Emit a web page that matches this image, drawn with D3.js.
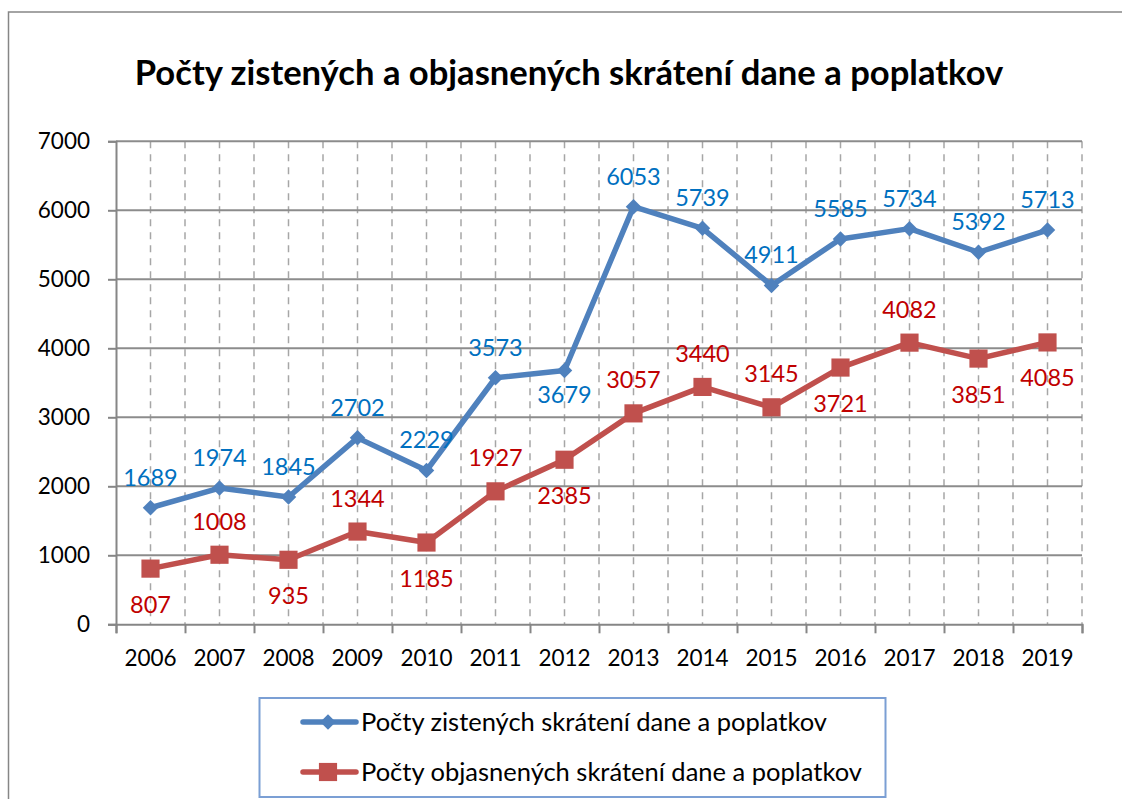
<!DOCTYPE html>
<html>
<head>
<meta charset="utf-8">
<script src="https://d3js.org/d3.v7.min.js"></script>
<style>
  body { margin: 0; background: #fff; }
  svg text { font-family: Lato, "Noto Sans", sans-serif; }
</style>
</head>
<body>
<div id="chart"></div>
<script>
// data
var years = ["2006", "2007", "2008", "2009", "2010", "2011", "2012",
             "2013", "2014", "2015", "2016", "2017", "2018", "2019"];
var zistene = [1689, 1974, 1845, 2702, 2229, 3573, 3679, 6053, 5739, 4911, 5585, 5734, 5392, 5713];
var objasnene = [807, 1008, 935, 1344, 1185, 1927, 2385, 3057, 3440, 3145, 3721, 4082, 3851, 4085];
var yTicks = [0, 1000, 2000, 3000, 4000, 5000, 6000, 7000];
var seriesNames = ["Počty zistených skrátení dane a poplatkov",
                   "Počty objasnených skrátení dane a poplatkov"];
var title = "Počty zistených a objasnených skrátení dane a poplatkov";

// where each data label sits: "t" above the point, "b" below
var zisteneLabelPos = ["t","t","t","t","t","t","b","t","t","t","t","t","t","t"];
var objasneneLabelPos = ["b","t","b","t","b","t","b","t","t","t","b","t","b","b"];

var width = 1122, height = 799;
var plotLeft = 116, plotRight = 1082, plotTop = 141.3, plotBottom = 624.3;
var fontSize = 22.5;

var svg = d3.select("#chart").append("svg")
    .attr("width", width)
    .attr("height", height);

// outer chart border (runs off the right and bottom edge)
svg.append("rect")
    .attr("x", 8.5).attr("y", 12)
    .attr("width", 1140).attr("height", 820)
    .attr("fill", "none")
    .attr("stroke", "#868686")
    .attr("stroke-width", 1.5);

svg.append("text")
    .attr("x", 569).attr("y", 85)
    .attr("text-anchor", "middle")
    .attr("font-weight", "bold")
    .attr("font-size", 34.6)
    .text(title);

var x = d3.scaleBand().domain(years).range([plotLeft, plotRight]);
var xi = d3.scaleLinear().domain([0, years.length]).range([plotLeft, plotRight]);
var y = d3.scaleLinear().domain([0, 7000]).range([plotBottom, plotTop]);

// vertical dashed grid (every half category)
svg.append("g")
    .selectAll("line")
    .data(d3.range(1, years.length * 2 + 1).map(function(d) { return d / 2; }))
    .enter().append("line")
    .attr("x1", function(d) { return xi(d); })
    .attr("x2", function(d) { return xi(d); })
    .attr("y1", plotTop)
    .attr("y2", plotBottom)
    .attr("stroke", "#a6a6a6")
    .attr("stroke-width", 1.5)
    .attr("stroke-dasharray", "7,6");

// horizontal grid
svg.append("g")
    .selectAll("line")
    .data(yTicks.slice(1))
    .enter().append("line")
    .attr("x1", plotLeft)
    .attr("x2", plotRight)
    .attr("y1", function(d) { return y(d); })
    .attr("y2", function(d) { return y(d); })
    .attr("stroke", "#8c8c8c")
    .attr("stroke-width", 2);

// y axis
var yAxis = svg.append("g")
    .attr("transform", "translate(" + plotLeft + ",0)")
    .call(d3.axisLeft(y).tickValues(yTicks).tickSize(8).tickPadding(18).tickFormat(d3.format("d")));
yAxis.selectAll("text").attr("font-size", fontSize).attr("fill", "#000")
    .style("font-family", "Lato, sans-serif");

// x axis tick marks at category boundaries
var xTickAxis = svg.append("g")
    .attr("transform", "translate(0," + plotBottom + ")")
    .call(d3.axisBottom(xi).tickValues(d3.range(years.length + 1)).tickSize(9).tickFormat(""));

// x axis labels
var xAxis = svg.append("g")
    .attr("transform", "translate(0," + plotBottom + ")")
    .call(d3.axisBottom(x).tickSize(0).tickPadding(26));
xAxis.select(".domain").remove();
xAxis.selectAll("text").attr("font-size", fontSize).attr("fill", "#000")
    .style("font-family", "Lato, sans-serif");

[yAxis, xTickAxis].forEach(function(a) {
    a.selectAll(".domain, line").attr("stroke", "#868686").attr("stroke-width", 2);
});

var series = [
    { name: seriesNames[0], values: zistene, pos: zisteneLabelPos, color: "#4f81bd", labelColor: "#0070c0",
      symbol: d3.symbolSquare, size: 120, rotate: 45, above: 22, below: 33 },
    { name: seriesNames[1], values: objasnene, pos: objasneneLabelPos, color: "#c0504d", labelColor: "#c00000",
      symbol: d3.symbolSquare, size: 330, rotate: 0, above: 25, below: 44 }
];

var line = d3.line()
    .x(function(d, i) { return x(years[i]) + x.bandwidth() / 2; })
    .y(function(d) { return y(d); });

series.forEach(function(s) {
    var g = svg.append("g");
    g.append("path")
        .datum(s.values)
        .attr("d", line)
        .attr("fill", "none")
        .attr("stroke", s.color)
        .attr("stroke-width", 5.5)
        .attr("stroke-linejoin", "round");

    g.selectAll(".marker")
        .data(s.values)
        .enter().append("path")
        .attr("class", "marker")
        .attr("d", d3.symbol().type(s.symbol).size(s.size))
        .attr("transform", function(d, i) {
            return "translate(" + (x(years[i]) + x.bandwidth() / 2) + "," + y(d) + ") rotate(" + s.rotate + ")";
        })
        .attr("fill", s.color);

    g.selectAll(".lbl")
        .data(s.values)
        .enter().append("text")
        .attr("class", "lbl")
        .attr("x", function(d, i) { return x(years[i]) + x.bandwidth() / 2; })
        .attr("y", function(d, i) { return s.pos[i] == "t" ? y(d) - s.above : y(d) + s.below; })
        .attr("text-anchor", "middle")
        .attr("font-size", 23.5)
        .attr("fill", s.labelColor)
        .text(function(d) { return d; });
});

// legend
var legend = svg.append("g");
legend.append("rect")
    .attr("x", 259.5).attr("y", 698)
    .attr("width", 626).attr("height", 99)
    .attr("fill", "#fff")
    .attr("stroke", "#7b9fd4")
    .attr("stroke-width", 2);

series.forEach(function(s, i) {
    var cy = 722 + i * 50;
    legend.append("line")
        .attr("x1", 303).attr("x2", 356)
        .attr("y1", cy).attr("y2", cy)
        .attr("stroke", s.color)
        .attr("stroke-width", 5.5)
        .attr("stroke-linecap", "round");
    legend.append("path")
        .attr("d", d3.symbol().type(s.symbol).size(s.size))
        .attr("transform", "translate(328," + cy + ") rotate(" + s.rotate + ")")
        .attr("fill", s.color);
    legend.append("text")
        .attr("x", 361).attr("y", cy)
        .attr("dy", "0.35em")
        .attr("font-size", 25.5)
        .attr("fill", "#000")
        .text(s.name);
});
</script>
</body>
</html>
